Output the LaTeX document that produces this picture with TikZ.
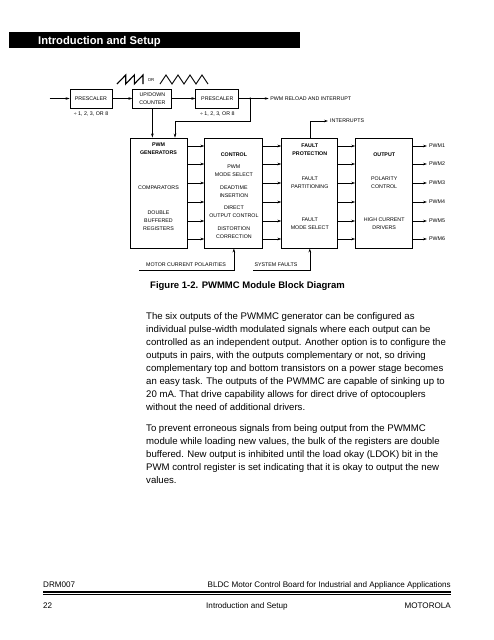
\documentclass[tikz,border=0pt]{standalone}
\usepackage{fontspec}
\setmainfont{Liberation Sans}
\usetikzlibrary{arrows.meta, positioning}

\newcommand{\dgfont}{\fontsize{5.3}{7.9}\selectfont}

\begin{document}
\begin{tikzpicture} [x = 1pt, y = -1pt, node distance = 20pt,
  blk/.style = {draw, line width = 0.9pt, minimum height = 19pt, inner sep = 0pt, font = \dgfont, align = center},
  big/.style = {draw, line width = 0.9pt, minimum height = 110pt, inner sep = 0pt},
  lbl/.style = {font = \dgfont, inner sep = 0pt, align = center},
  hd/.style = {lbl, font = \dgfont\bfseries},
  para/.style = {font = \fontsize{9.6}{13}\selectfont, inner sep = 0pt, align = left, anchor = north west},
  foot/.style = {font = \fontsize{8.1}{10}\selectfont, inner sep = 0pt},
  sig/.style = {-{Stealth[length = 4pt, width = 2.6pt]}, line width = 0.6pt},
  wire/.style = {line width = 0.6pt}]

\useasboundingbox (0,0) rectangle (494,640);

% header bar
\fill (9,32) rectangle (300,48);
\node (hdr) [anchor = base west, inner sep = 0pt, text = white, font = \fontsize{11.2}{13}\selectfont\bfseries] at (38,44.2) {Introduction and Setup};

% clock chain
\node (pre1) [blk, minimum width = 42pt] at (91,98.5) {PRESCALER};
\node (cnt) [blk, minimum width = 39pt, right = of pre1] {UP/DOWN\\COUNTER};
\node (pre2) [blk, minimum width = 43pt, right = 23pt of cnt] {PRESCALER};

\node (div1) [lbl, below = 2.8pt of pre1] {÷ 1, 2, 3, OR 8};
\node (div2) [lbl, below = 2.8pt of pre2] {÷ 1, 2, 3, OR 8};

\draw [line width = 1.1pt] (117,84) -- (125.7,75) -- (125.7,84) -- (134.3,75) -- (134.3,84) -- (143,75) -- (143,84);
\node (or) [lbl, font = \fontsize{4.3}{5}\selectfont] at (151,80.5) {OR};
\draw [line width = 0.9pt] (160,84) \foreach \k in {0,...,3} { -- ++(6,-9) -- ++(6,9) };

\coordinate (clk) at ([xshift = -20pt] pre1.west);
\coordinate (tap) at ([xshift = 11pt] pre2.east);
\node (rld) [lbl, anchor = west] at ([xshift = 31pt] pre2.east) {PWM RELOAD AND INTERRUPT};

\draw [sig] (clk) -- (pre1);
\draw [sig] (pre1) -- (cnt);
\draw [sig] (cnt) -- (pre2);
\draw [wire] (pre2) -- (tap);
\draw [sig] (tap) -- ([xshift = -1.5pt] rld.west);
\fill (tap) circle (1.1pt);

% module blocks
\node (gen) [big, minimum width = 57pt] at (158.5,193) {};
\node (ctl) [big, minimum width = 58pt, right = 17pt of gen] {};
\node (flt) [big, minimum width = 56pt, right = 18pt of ctl] {};
\node (out) [big, minimum width = 57pt, right = 17pt of flt] {};

\draw [sig] (cnt.south) -- (cnt.south |- gen.north);
\draw [sig] (tap) -- (tap |- 0,121) -| ([xshift = 16.5pt] gen.north);

\node (intr) [lbl, anchor = west] at (330,121) {INTERRUPTS};
\draw [sig] (flt.north) |- ([xshift = -2pt] intr.west);

\node (genA) [hd] at (gen.north |- 0,149) {PWM\\GENERATORS};
\node (genB) [lbl] at (gen.north |- 0,188) {COMPARATORS};
\node (genC) [lbl] at (gen.north |- 0,220.5) {DOUBLE\\BUFFERED\\REGISTERS};

\node (ctlA) [hd] at (ctl.north |- 0,155) {CONTROL};
\node (ctlB) [lbl] at (ctl.north |- 0,170.5) {PWM\\MODE SELECT};
\node (ctlC) [lbl] at (ctl.north |- 0,192) {DEADTIME\\INSERTION};
\node (ctlD) [lbl] at (ctl.north |- 0,212) {DIRECT\\OUTPUT CONTROL};
\node (ctlE) [lbl] at (ctl.north |- 0,233) {DISTORTION\\CORRECTION};

\node (fltA) [hd] at (flt.north |- 0,149.5) {FAULT\\PROTECTION};
\node (fltB) [lbl] at (flt.north |- 0,182.5) {FAULT\\PARTITIONING};
\node (fltC) [lbl] at (flt.north |- 0,224) {FAULT\\MODE SELECT};

\node (outA) [hd] at (out.north |- 0,155) {OUTPUT};
\node (outB) [lbl] at (out.north |- 0,182.5) {POLARITY\\CONTROL};
\node (outC) [lbl] at (out.north |- 0,224) {HIGH CURRENT\\DRIVERS};

\foreach \y in {146,164,183,202,221,239} {
  \draw [sig] (gen.east |- 0,\y) -- (ctl.west |- 0,\y);
  \draw [sig] (ctl.east |- 0,\y) -- (flt.west |- 0,\y);
  \draw [sig] (flt.east |- 0,\y) -- (out.west |- 0,\y);
}

% PWM1..PWM6
\foreach \i/\y in {1/146,2/164,3/183,4/202,5/221,6/239} {
  \node (pwm\i) [lbl, anchor = west] at (429,\y) {PWM\i};
  \draw [sig] (out.east |- pwm\i) -- ([xshift = -2pt] pwm\i.west);
}

\node (mcp) [lbl, anchor = base] at (186,266) {MOTOR CURRENT POLARITIES};
\coordinate (mcpin) at (139,270);
\draw [sig] (mcpin) -| (ctl.south);

\node (sysf) [lbl, anchor = base] at (276,266) {SYSTEM FAULTS};
\coordinate (sysin) at (253,270);
\draw [sig] (sysin) -| (flt.south);

% caption and text
\node (cap) [anchor = base west, inner sep = 0pt, font = \fontsize{9.5}{11}\selectfont\bfseries] at (150,288.4) {Figure 1-2. PWMMC Module Block Diagram};

\node (par1) [para] at (146,312) {The six outputs of the PWMMC generator can be configured as\\
individual pulse-width modulated signals where each output can be\\
controlled as an independent output. Another option is to configure the\\
outputs in pairs, with the outputs complementary or not, so driving\\
complementary top and bottom transistors on a power stage becomes\\
an easy task. The outputs of the PWMMC are capable of sinking up to\\
20 mA. That drive capability allows for direct drive of optocouplers\\
without the need of additional drivers.};

\node (par2) [para] at (146,424.5) {To prevent erroneous signals from being output from the PWMMC\\
module while loading new values, the bulk of the registers are double\\
buffered. New output is inhibited until the load okay (LDOK) bit in the\\
PWM control register is set indicating that it is okay to output the new\\
values.};

% footer
\node (docid) [foot, anchor = base west] at (43,587) {DRM007};
\node (doctitle) [foot, anchor = base east] at (451,587) {BLDC Motor Control Board for Industrial and Appliance Applications};
\draw [line width = 1.6pt] (docid.west |- 0,591.8) -- (doctitle.east |- 0,591.8);
\draw [line width = 1.1pt] (docid.west |- 0,594.7) -- (doctitle.east |- 0,594.7);
\node (pgno) [foot, anchor = base west] at (43,608) {22};
\node (sect) [foot, anchor = base] at (247,608) {Introduction and Setup};
\node (vendor) [foot, anchor = base east] at (451,608) {MOTOROLA};

\end{tikzpicture}
\end{document}
